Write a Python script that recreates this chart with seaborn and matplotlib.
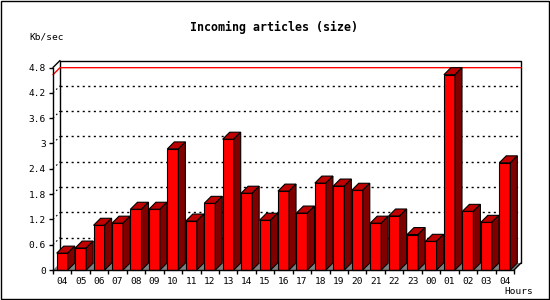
import numpy as np
import pandas as pd
import matplotlib
matplotlib.use("Agg")
import matplotlib.pyplot as plt
from matplotlib.patches import Polygon, Rectangle
import seaborn as sns

# ---- data ----
hours = ["04", "05", "06", "07", "08", "09", "10", "11", "12", "13", "14", "15",
         "16", "17", "18", "19", "20", "21", "22", "23", "00", "01", "02", "03", "04"]
kbps = [0.40, 0.52, 1.06, 1.11, 1.44, 1.44, 2.87, 1.16, 1.58, 3.10, 1.82, 1.18,
        1.87, 1.35, 2.06, 1.99, 1.89, 1.11, 1.28, 0.84, 0.68, 4.63, 1.39, 1.13, 2.54]
yticks = [0, 0.6, 1.2, 1.8, 2.4, 3.0, 3.6, 4.2, 4.8]
ytick_labels = ["0", "0.6", "1.2", "1.8", "2.4", "3", "3.6", "4.2", "4.8"]
title = "Incoming articles (size)"
ylabel = "Kb/sec"
xlabel = "Hours"

# ---- style ----
sns.set_style("white")
plt.rcParams["font.family"] = ["DejaVu Sans Mono", "DejaVu Sans"]

W, H, DPI = 550, 300, 100
FRONT = "#ff0000"
TOP = "#c00000"
SIDE = "#800000"
FLOOR = "#808080"
DEPTH = 7.0  # px
PX = 72.0 / DPI  # points per pixel

fig = plt.figure(figsize=(W / DPI, H / DPI), dpi=DPI)
fig.patch.set_facecolor("white")
ax = fig.add_axes([53 / W, 30 / H, 461 / W, 202.5 / H])
ax.set_facecolor("none")

df = pd.DataFrame({"slot": list(range(len(kbps))), "kbps": kbps})
sns.barplot(data=df, x="slot", y="kbps", color=FRONT, saturation=1, width=0.6,
            edgecolor="black", linewidth=0.8, errorbar=None, ax=ax)

n = len(kbps)
x0, x1 = -0.5, n - 0.5
y0, y1 = 0.0, yticks[-1]
ax.set_xlim(x0, x1)
ax.set_ylim(y0, y1)

# depth in data units
ddx = DEPTH / (461 / (x1 - x0))
ddy = DEPTH / (202.5 / (y1 - y0))

# back wall frame (left, top, right edges)
ax.plot([x0 + ddx, x0 + ddx, x1 + ddx, x1 + ddx], [y0 + ddy, y1 + ddy, y1 + ddy, y0 + ddy],
        color="black", lw=1 * PX * 1.4, clip_on=False, zorder=0.6)
# top-left depth edge and bottom-right depth edge
ax.plot([x0, x0 + ddx], [y1, y1 + ddy], color="black", lw=1.0, clip_on=False, zorder=0.6)
ax.plot([x1, x1 + ddx], [y0, y0 + ddy], color="black", lw=1.0, clip_on=False, zorder=4)

# dotted gridlines on back wall + left wall
for v in yticks[1:-1]:
    ax.plot([x0 + ddx, x1 + ddx], [v + ddy, v + ddy], color="black", lw=1.0,
            linestyle=(0, (1.5, 2.5)), clip_on=False, zorder=0.5)
    ax.plot([x0, x0 + ddx], [v, v + ddy], color="black", lw=0.8,
            linestyle=(0, (1.5, 2.5)), clip_on=False, zorder=0.5)

# red max line
vmax = max(kbps)
ax.plot([x0, x0 + ddx, x1 + ddx], [vmax, vmax + ddy, vmax + ddy], color="#ff0000",
        lw=1.0, clip_on=False, zorder=0.7)

# floor
ax.add_patch(Polygon([[x0, y0], [x1, y0], [x1 + ddx, y0 + ddy], [x0 + ddx, y0 + ddy]],
                     closed=True, facecolor=FLOOR, edgecolor="none", clip_on=False, zorder=0.8))

# 3D bar faces
for p in ax.patches[:]:
    if not isinstance(p, Rectangle) or p.get_height() <= 0:
        continue
    bx, bw, bh = p.get_x(), p.get_width(), p.get_height()
    p.set_zorder(3)
    p.set_clip_on(False)
    top = Polygon([[bx, bh], [bx + ddx, bh + ddy], [bx + bw + ddx, bh + ddy], [bx + bw, bh]],
                  closed=True, facecolor=TOP, edgecolor="black", lw=0.8, clip_on=False, zorder=3)
    side = Polygon([[bx + bw, 0], [bx + bw, bh], [bx + bw + ddx, bh + ddy], [bx + bw + ddx, ddy]],
                   closed=True, facecolor=SIDE, edgecolor="black", lw=0.8, clip_on=False, zorder=3)
    ax.add_patch(top)
    ax.add_patch(side)

# spines
for s in ["top", "right"]:
    ax.spines[s].set_visible(False)
for s in ["left", "bottom"]:
    ax.spines[s].set_color("black")
    ax.spines[s].set_linewidth(1.0)
    ax.spines[s].set_zorder(5)

# ticks
ax.set_yticks(yticks)
ax.set_yticklabels(ytick_labels)
ax.set_xticks(np.arange(x0, x1 + 0.01, 1.0))
ax.set_xticklabels([])
ax.set_xticks(np.arange(n), minor=True)
ax.set_xticklabels(hours, minor=True)
ax.tick_params(axis="x", which="major", direction="out", length=3 * PX * 1.4, width=1.0,
               color="black", bottom=True)
ax.tick_params(axis="x", which="minor", length=0, pad=5, labelsize=6.8, labelcolor="black")
ax.tick_params(axis="y", direction="out", length=3 * PX * 1.4, width=1.0, color="black",
               left=True, pad=2, labelsize=6.8, labelcolor="black")
ax.set_xlabel("")
ax.set_ylabel("")
ax.grid(False)

# texts
fig.text(274 / W, 1 - 27 / H, title, ha="center", va="center", fontsize=8.4,
         fontweight="bold", color="black")
fig.text(29 / W, 1 - 37 / H, ylabel, ha="left", va="center", fontsize=6.8, color="black")
fig.text(533 / W, 1 - 292 / H, xlabel, ha="right", va="center", fontsize=6.8, color="black")

# image border
fig.add_artist(Rectangle((0.5 / W, 1.5 / H), 548 / W, 298 / H, transform=fig.transFigure,
                         fill=False, edgecolor="black", lw=1.0))

fig.savefig("out.png", dpi=DPI)
